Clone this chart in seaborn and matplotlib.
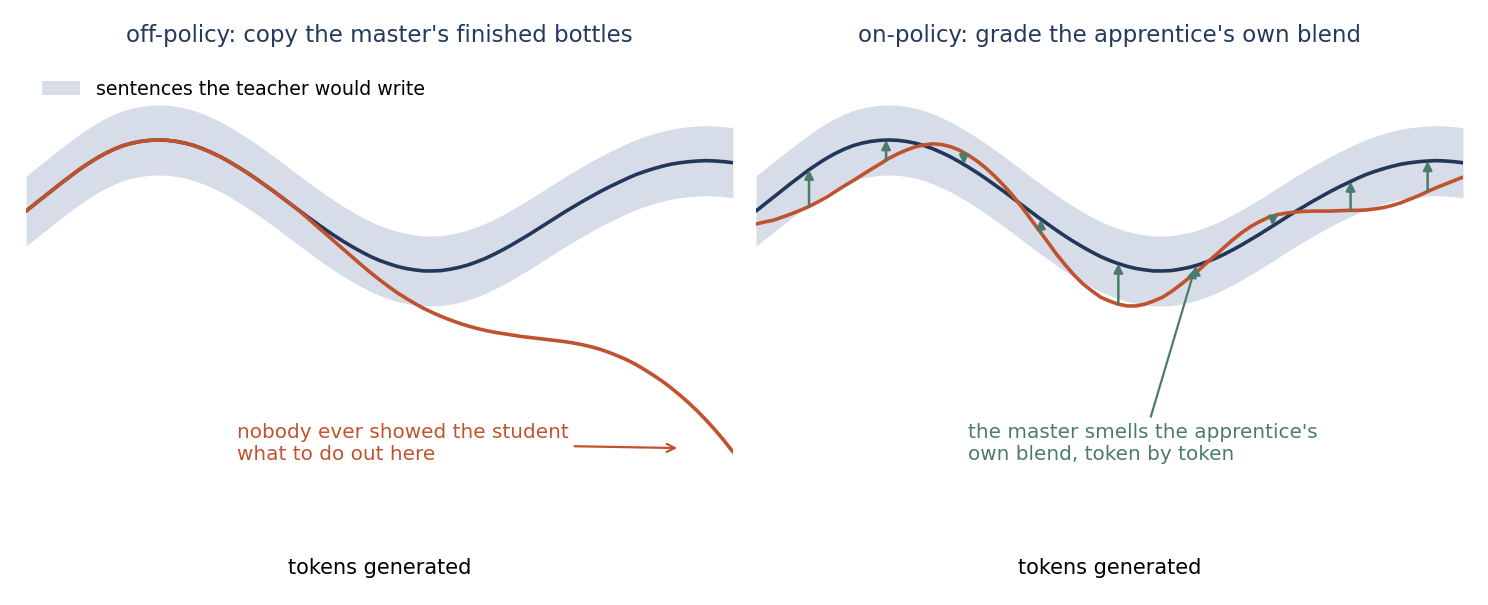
import numpy as np
import pandas as pd
import matplotlib
matplotlib.use("Agg")
import matplotlib.pyplot as plt
import seaborn as sns

# x grid (tokens generated), 0..10 in eighth steps
tokens = np.linspace(0, 10, 81)

# teacher's path (centre of the band)
teacher = [-0.03, 0.17, 0.37, 0.57, 0.77, 0.96, 1.15, 1.32, 1.48, 1.62,
           1.74, 1.84, 1.91, 1.96, 1.99, 2.00, 1.99, 1.96, 1.91, 1.84,
           1.75, 1.64, 1.52, 1.38, 1.23, 1.07, 0.90, 0.72, 0.54, 0.35,
           0.16, -0.03, -0.22, -0.40, -0.58, -0.75, -0.91, -1.06, -1.20, -1.33,
           -1.44, -1.53, -1.61, -1.67, -1.71, -1.74, -1.74, -1.73, -1.69, -1.64,
           -1.57, -1.48, -1.38, -1.26, -1.13, -0.99, -0.84, -0.69, -0.53, -0.37,
           -0.21, -0.05, 0.10, 0.25, 0.39, 0.53, 0.66, 0.78, 0.90, 1.01,
           1.10, 1.18, 1.25, 1.31, 1.35, 1.38, 1.40, 1.41, 1.40, 1.38, 1.35]
band_half = 1.0

# student trained off-policy: drifts away after the first slip
student_off = [-0.03, 0.17, 0.37, 0.57, 0.77, 0.96, 1.15, 1.32, 1.48, 1.62,
               1.74, 1.84, 1.91, 1.96, 1.99, 2.00, 1.99, 1.96, 1.91, 1.84,
               1.75, 1.64, 1.52, 1.38, 1.23, 1.07, 0.90, 0.72, 0.54, 0.35,
               0.16, -0.04, -0.26, -0.48, -0.70, -0.92, -1.14, -1.36, -1.58, -1.79,
               -1.99, -2.18, -2.36, -2.52, -2.67, -2.81, -2.93, -3.04, -3.14, -3.23,
               -3.31, -3.38, -3.44, -3.49, -3.53, -3.57, -3.61, -3.64, -3.67, -3.70,
               -3.73, -3.76, -3.80, -3.85, -3.91, -3.98, -4.07, -4.17, -4.28, -4.41,
               -4.56, -4.72, -4.89, -5.08, -5.29, -5.51, -5.75, -6.01, -6.29, -6.59, -6.91]

# student trained on-policy: wobbles but stays near the teacher
student_on = [-0.40, -0.34, -0.29, -0.20, -0.11, -0.01, 0.10, 0.23, 0.37, 0.53,
              0.69, 0.84, 1.00, 1.16, 1.31, 1.47, 1.60, 1.71, 1.80, 1.86,
              1.89, 1.87, 1.81, 1.71, 1.57, 1.40, 1.20, 0.97, 0.71, 0.43,
              0.11, -0.23, -0.57, -0.91, -1.26, -1.57, -1.86, -2.11, -2.31, -2.49,
              -2.60, -2.69, -2.74, -2.74, -2.69, -2.60, -2.49, -2.33, -2.14, -1.94,
              -1.74, -1.51, -1.29, -1.06, -0.84, -0.64, -0.47, -0.33, -0.21, -0.13,
              -0.09, -0.06, -0.04, -0.03, -0.03, -0.03, -0.02, -0.01, -0.01, 0.00,
              0.03, 0.07, 0.13, 0.21, 0.31, 0.41, 0.53, 0.64, 0.74, 0.84, 0.94]

# where the teacher grades the student's tokens
grade_x = [0.75, 1.84, 2.94, 4.03, 5.125, 6.22, 7.31, 8.41, 9.5]

titles = ["off-policy: copy the master's finished bottles",
          "on-policy: grade the apprentice's own blend"]
band_label = "sentences the teacher would write"
note_off = "nobody ever showed the student\nwhat to do out here"
note_on = "the master smells the apprentice's\nown blend, token by token"

navy = "#22375a"
orange = "#c0532e"
green = "#4a7b6b"
band_col = "#d6dce8"

sns.set_style("white")
plt.rcParams['font.family'] = ['DejaVu Sans']

df = pd.DataFrame({"tokens": tokens, "teacher": teacher,
                   "off": student_off, "on": student_on})
lo = df.teacher - band_half
hi = df.teacher + band_half

fig, axes = plt.subplots(1, 2, figsize=(14.88, 6.05), dpi=100)
fig.subplots_adjust(left=26 / 1488, right=1463 / 1488, top=1 - 64 / 605,
                    bottom=1 - 550 / 605, wspace=23 / 707)

for i, (ax, title, stu) in enumerate(zip(axes, titles, ["off", "on"])):
    ax.fill_between(df.tokens, lo, hi, color=band_col, lw=0,
                    label=band_label if i == 0 else None)
    sns.lineplot(data=df, x="tokens", y="teacher", ax=ax, color=navy, lw=2.6,
                 estimator=None, sort=False)
    sns.lineplot(data=df, x="tokens", y=stu, ax=ax, color=orange, lw=2.6,
                 estimator=None, sort=False)
    ax.set_xlim(0, 10)
    ax.set_ylim(-9.71, 4.17)
    ax.set_title(title, color="#243b5e", fontsize=16.5, pad=16)
    ax.set_xlabel("tokens generated", fontsize=15, labelpad=6, color="black")
    ax.set_ylabel("")
    ax.set_xticks([])
    ax.set_yticks([])
    sns.despine(ax=ax, left=True, bottom=True)

ax = axes[0]
leg = ax.legend(loc="upper left", frameon=False, fontsize=13.7, handlelength=2.0,
                handletextpad=0.85, borderaxespad=0.42)
for t in leg.get_texts():
    t.set_color("black")
ax.annotate(note_off, xy=(9.25, -6.8), xytext=(2.98, -6.66), ha="left",
            va="center", color=orange, fontsize=14.4,
            arrowprops=dict(arrowstyle="->", color=orange, lw=1.6))

ax = axes[1]
for gx in grade_x:
    y0 = np.interp(gx, tokens, student_on)
    y1 = np.interp(gx, tokens, teacher)
    ax.annotate("", xy=(gx, y1), xytext=(gx, y0),
                arrowprops=dict(arrowstyle="-|>", color=green, lw=1.8,
                                mutation_scale=13, shrinkA=0, shrinkB=0))
tx = grade_x[5]
ax.annotate(note_on, xy=(tx, np.interp(tx, tokens, teacher)), xytext=(3.0, -6.66),
            ha="left", va="center", color=green, fontsize=14.4,
            arrowprops=dict(arrowstyle="-|>", color=green, lw=1.6,
                            mutation_scale=13))

fig.savefig("out.png", dpi=100)
